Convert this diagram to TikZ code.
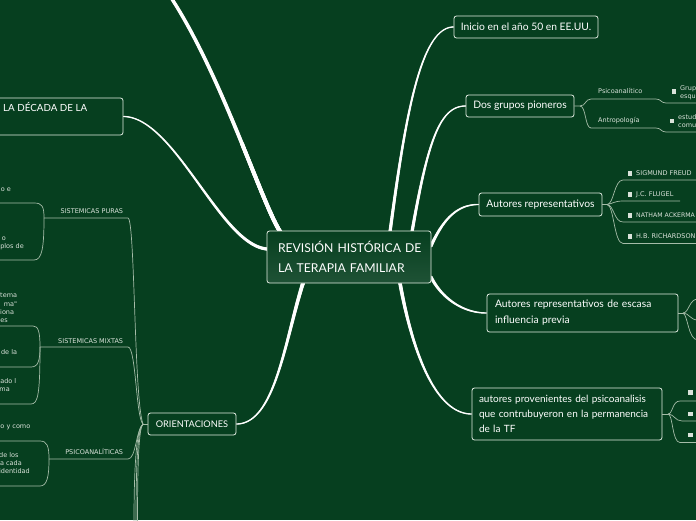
\documentclass[tikz,border=0pt]{standalone}
\usepackage{fontspec}
\setmainfont{Lato}
\newfontfamily\smallfont{DejaVu Sans}
\usetikzlibrary{decorations.markings}
\definecolor{bg}{RGB}{6,63,31}
\definecolor{subline}{RGB}{165,188,168}
\definecolor{subtext}{RGB}{218,226,218}
\definecolor{boxline}{RGB}{226,236,226}
\begin{document}
\begin{tikzpicture}[x=1pt,y=-1pt,
  box/.style={draw=boxline, line width=0.8pt, rounded corners=2.5pt, fill=bg, text=white, inner sep=0pt, font=\fontsize{10.3}{16}\selectfont},
  sub/.style={draw=subline, line width=0.7pt},
  leaf/.style={text=subtext, font=\smallfont\fontsize{6.5}{8}\selectfont, inner sep=0pt},
  chk/.style={fill=subtext, minimum size=4.5pt, inner sep=0pt},
  taper/.style 2 args={decoration={markings, mark=between positions 0 and 1 step 0.5pt with {\pgfmathsetmacro\rr{#1+(#2-#1)*\pgfkeysvalueof{/pgf/decoration/mark info/distance from start}/\pgfdecoratedpathlength}\fill[white] (0pt,0pt) circle[radius=\rr pt];}}, decorate}
]
\useasboundingbox (0,0) rectangle (696,520);
\fill[bg] (0,0) rectangle (696,520);
\clip (0,0) rectangle (696,520);

% ---------- coordinates for main connectors ----------
\coordinate (ctl) at (281,233);
\coordinate (tlend) at (170,-4);
\coordinate (cleft) at (267,249);
\coordinate (cini) at (390,232);
\coordinate (cdos) at (412,232);
\coordinate (caut) at (431,246);
\coordinate (cesc) at (431,277);
\coordinate (cpro) at (400,283);
\coordinate (cori) at (303,283);

% ---------- nodes ----------
\node[box, minimum width=153pt, minimum height=37pt] (dec) at (46.5,116.5) {};
\node[text=white, inner sep=0pt, anchor=base west, font=\fontsize{9.8}{12}\selectfont] (dect) at (3,111.5) {LA DÉCADA DE LA};
\node[box, minimum width=144pt, minimum height=22pt] (ini) at (526,27) {Inicio en el año 50 en EE.UU.};
\node[box, minimum width=108pt, minimum height=22pt] (dos) at (520,106) {Dos grupos pioneros};
\node[box, minimum width=123pt, minimum height=23pt] (aut) at (540.5,204.5) {Autores representativos};
\node[box, minimum width=191pt, minimum height=38pt, text width=175pt, inner xsep=8pt, align=left] (esc) at (582.5,313) {\mbox{Autores representativos de escasa}\\\mbox{influencia previa}};
\node[box, minimum width=190pt, minimum height=52pt, text width=176pt, inner xsep=7pt, align=left, font=\fontsize{10}{14.7}\selectfont] (pro) at (567,414) {\mbox{autores provenientes del psicoanalisis}\\\mbox{que contrubuyeron en la permanencia}\\\mbox{de la TF}};
\node[box, minimum width=88pt, minimum height=22pt, font=\fontsize{9.2}{11}\selectfont] (ori) at (192,424) {ORIENTACIONES};

% ---------- main tapered connectors ----------
\path[taper={2.1}{1.8}] (ctl) .. controls (262,205) and (222,75) .. (tlend);
\path[taper={1.7}{0.7}] (cleft) .. controls (220,245) and (175,117) .. (dec.east);
\path[taper={1.7}{0.7}] (cini) .. controls (405,120) and (420,27) .. (ini.west);
\path[taper={1.7}{0.7}] (cdos) .. controls (428,140) and (440,106) .. (dos.west);
\path[taper={1.7}{0.7}] (caut) .. controls (445,215) and (460,204.5) .. (aut.west);
\path[taper={1.7}{0.7}] (cesc) .. controls (440,295) and (460,313) .. (esc.west);
\path[taper={1.9}{0.7}] (cpro) .. controls (412,350) and (435,414) .. (pro.west);
\path[taper={2.0}{0.7}] (cori) .. controls (285,340) and (275,424) .. (ori.east);

% ---------- central node ----------
\node[box, top color=bg, middle color=bg, bottom color=bg!90!white, minimum width=164pt, minimum height=52pt, text width=142pt, inner xsep=11pt, align=left, font=\fontsize{12.2}{20}\selectfont] (c) at (349,257) {\mbox{REVISIÓN HISTÓRICA DE}\\\mbox{LA TERAPIA FAMILIAR}};

% ---------- Dos grupos pioneros ----------
\coordinate (dsplit) at (580,106);
\coordinate (psiA) at (591,99); \coordinate (psiB) at (656,99);
\coordinate (psiC) at (666,103); \coordinate (psiD) at (698,103);
\coordinate (antA) at (591,128); \coordinate (antB) at (656,128);
\coordinate (antC) at (666,132); \coordinate (antD) at (698,132);
\draw[sub] (dos.east) -- (dsplit) .. controls (586,106) and (585,99) .. (psiA) -- (psiB) .. controls (661,99) and (661,103) .. (psiC) -- (psiD);
\draw[sub] (dsplit) .. controls (586,106) and (585,128) .. (antA) -- (antB) .. controls (661,128) and (661,132) .. (antC) -- (antD);
\node[leaf, anchor=base west] (psi) at (598,93.5) {Psicoanalítico};
\node[leaf, anchor=base west] (ant) at (598,122.5) {Antropología};
\node[chk] (psichk) at (674,91.5) {};
\node[chk] (antchk) at (672,121) {};
\node[leaf, anchor=base west] (psit1) at (680,90) {Grup};
\node[leaf, anchor=base west] (psit2) at (680,98) {esqu};
\node[leaf, anchor=base west] (antt1) at (678,119) {estud};
\node[leaf, anchor=base west] (antt2) at (678,127.5) {comu};

% ---------- Autores representativos ----------
\coordinate (asplit) at (607,204.5);
\coordinate (fr1) at (623,180); \coordinate (fr2) at (698,180);
\coordinate (fl1) at (623,201); \coordinate (fl2) at (680,201);
\coordinate (ac1) at (623,222); \coordinate (ac2) at (698,222);
\coordinate (ri1) at (623,243.5); \coordinate (ri2) at (698,243.5);
\draw[sub] (aut.east) -- (asplit);
\draw[sub] (asplit) .. controls (614,204.5) and (614,180) .. (fr1) -- (fr2);
\draw[sub] (asplit) .. controls (612,204) and (614,201) .. (fl1) -- (fl2);
\draw[sub] (asplit) .. controls (614,205) and (614,222) .. (ac1) -- (ac2);
\draw[sub] (asplit) .. controls (614,205) and (614,243.5) .. (ri1) -- (ri2);
\node[chk] (k1) at (630,173.3) {};
\node[chk] (k2) at (630,194.3) {};
\node[chk] (k3) at (630,215.3) {};
\node[chk] (k4) at (630,236.3) {};
\node[leaf, anchor=base west] (a1) at (636,175.8) {SIGMUND FREUD};
\node[leaf, anchor=base west] (a2) at (636,196.8) {J.C. FLUGEL};
\node[leaf, anchor=base west, font=\smallfont\fontsize{6.2}{8}\selectfont] (a3) at (636,217.8) {NATHAM ACKERMA};
\node[leaf, anchor=base west] (a4) at (636,238.8) {H.B. RICHARDSON};

% ---------- escasa influencia ----------
\coordinate (esplit) at (683,313);
\coordinate (es1) at (698,299); \coordinate (es2) at (698,320); \coordinate (es3) at (698,340);
\draw[sub] (esc.east) -- (esplit);
\draw[sub] (esplit) .. controls (689,313) and (689,299) .. (es1);
\draw[sub] (esplit) .. controls (689,313) and (690,320) .. (es2);
\draw[sub] (esplit) .. controls (688,315) and (688,340) .. (es3);

% ---------- provenientes ----------
\coordinate (psplit) at (668,414);
\coordinate (pv1a) at (680,401); \coordinate (pv1b) at (698,401);
\coordinate (pv2a) at (682,421); \coordinate (pv2b) at (698,421);
\coordinate (pv3a) at (680,442.5); \coordinate (pv3b) at (698,442.5);
\draw[sub] (pro.east) -- (psplit);
\draw[sub] (psplit) .. controls (673,414) and (672,401) .. (pv1a) -- (pv1b);
\draw[sub] (psplit) .. controls (674,414) and (675,421) .. (pv2a) -- (pv2b);
\draw[sub] (psplit) .. controls (673,414) and (672,442.5) .. (pv3a) -- (pv3b);
\node[chk] (p1) at (690.5,392.7) {};
\node[chk] (p2) at (690.5,414) {};
\node[chk] (p3) at (690.5,435) {};

% ---------- ORIENTACIONES ----------
\coordinate (osplit) at (143,424);
\coordinate (pu1) at (44,218); \coordinate (pu2) at (128,218);
\coordinate (mi1) at (40,347); \coordinate (mi2) at (128,347);
\coordinate (ps1) at (49,459); \coordinate (ps2) at (128,459);
\coordinate (bot1) at (134,522); \coordinate (bot2) at (136,522); \coordinate (bot3) at (137.5,522);
\draw[sub] (ori.west) -- (osplit);
\draw[sub] (pu1) -- (pu2) .. controls (135,218) and (134,400) .. (osplit);
\draw[sub] (mi1) -- (mi2) .. controls (136,347) and (136,418) .. (osplit);
\draw[sub] (ps1) -- (ps2) .. controls (136,459) and (136,430) .. (osplit);
\draw[sub] (osplit) .. controls (137,428) and (134,460) .. (bot1);
\draw[sub] (osplit) .. controls (138,428) and (136,460) .. (bot2);
\draw[sub] (osplit) .. controls (139,428) and (137.5,460) .. (bot3);

\coordinate (pua) at (34,203); \coordinate (pub) at (-2,203);
\coordinate (puc) at (34,260); \coordinate (pud) at (-2,260);
\draw[sub] (pu1) .. controls (44,206) and (42,203) .. (pua) -- (pub);
\draw[sub] (pu1) .. controls (44,248) and (42,260) .. (puc) -- (pud);
\coordinate (mia) at (33,326); \coordinate (mib) at (-2,326);
\coordinate (mic) at (31,367); \coordinate (mid) at (-2,367);
\coordinate (mie) at (31,404); \coordinate (mif) at (-2,404);
\draw[sub] (mi1) .. controls (40,331) and (38,326) .. (mia) -- (mib);
\draw[sub] (mi1) .. controls (40,361) and (38,367) .. (mic) -- (mid);
\draw[sub] (mi1) .. controls (40,394) and (38,404) .. (mie) -- (mif);
\coordinate (psa) at (40,441); \coordinate (psb) at (-2,441);
\coordinate (psc) at (40,486); \coordinate (psd) at (-2,486);
\draw[sub] (ps1) .. controls (49,446) and (47,441) .. (psa) -- (psb);
\draw[sub] (ps1) .. controls (49,477) and (47,486) .. (psc) -- (psd);

\node[leaf, anchor=base east] (lpu) at (123.3,213.2) {SISTEMICAS PURAS};
\node[leaf, anchor=base east] (lmi) at (123.3,343) {SISTEMICAS MIXTAS};
\node[leaf, anchor=base east] (lps) at (123.3,454.8) {PSICOANALÍTICAS};

\node[leaf, anchor=base east] (t1) at (11,191) {o e};
\node[leaf, anchor=base east] (t2) at (6,240) {o};
\node[leaf, anchor=base east] (t3) at (24,248) {plos de};
\node[leaf, anchor=base east] (t4) at (17.3,297.7) {tema};
\node[leaf, anchor=base east] (t5) at (17.3,306) {ma"};
\node[leaf, anchor=base east] (t6) at (14.3,314.3) {iona};
\node[leaf, anchor=base east] (t7) at (8,322) {es};
\node[leaf, anchor=base east] (t8) at (17.3,354.3) {de la};
\node[leaf, anchor=base east] (t9) at (16.5,383) {ado l};
\node[leaf, anchor=base east] (t10) at (10,391.3) {ma};
\node[leaf, anchor=base east] (t11) at (30.5,428.3) {o y como};
\node[leaf, anchor=base east] (t12) at (18.7,457.3) {de los};
\node[leaf, anchor=base east] (t13) at (22,465.3) {a cada};
\node[leaf, anchor=base east] (t14) at (30,473.3) {identidad};
\end{tikzpicture}
\end{document}
